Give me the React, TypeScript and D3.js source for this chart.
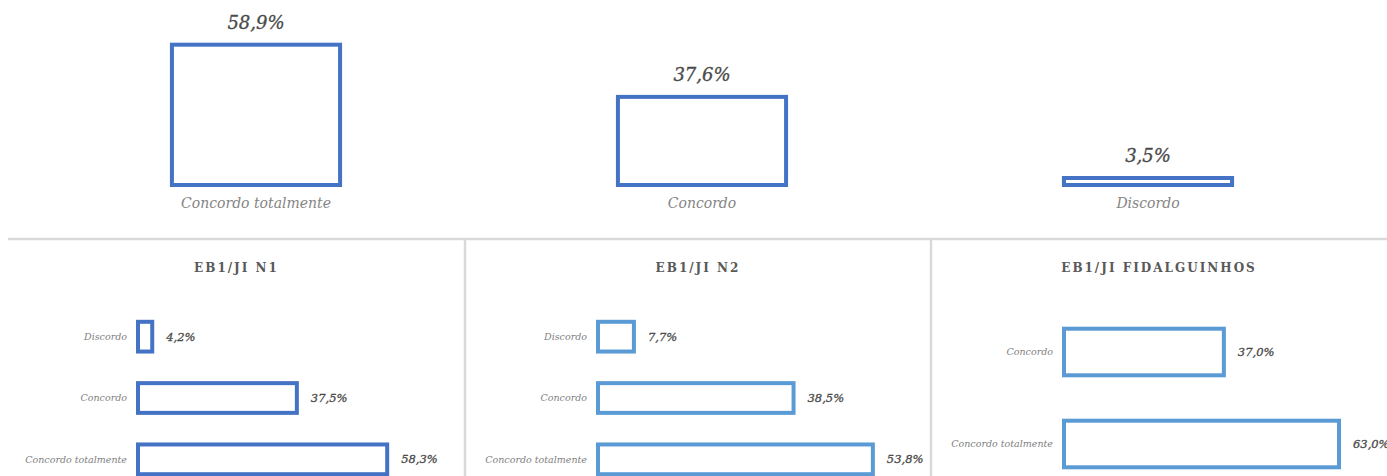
import * as d3 from "d3";

// overall distribution
const totalCategories = ["Concordo totalmente", "Concordo", "Discordo"];
const totalValues = [58.9, 37.6, 3.5];

// per-school panels (rows listed top to bottom)
const panelTitles = ["EB1/JI N1", "EB1/JI N2", "EB1/JI FIDALGUINHOS"];
const panelCategories = [
  ["Discordo", "Concordo", "Concordo totalmente"],
  ["Discordo", "Concordo", "Concordo totalmente"],
  ["Concordo", "Concordo totalmente"],
];
const panelValues = [
  [4.2, 37.5, 58.3],
  [7.7, 38.5, 53.8],
  [37.0, 63.0],
];
const panelAxisMax = [70, 60, 70];
const panelColors = ["#4472C4", "#5B9BD5", "#5B9BD5"];

const W = 1387;
const H = 476;
const FONT = "'DejaVu Serif', serif";
const fmt = (v: number) => v.toFixed(1).replace(".", ",") + "%";

function TopChart() {
  const x = d3.scaleBand<string>()
    .domain(totalCategories)
    .range([33, 1371])
    .paddingInner(0.614)
    .paddingOuter(0.307);
  const y = d3.scaleLinear().domain([0, 60]).range([187, 187 - 60 * 2.45]);
  const sw = 4;
  return (
    <g>
      {totalCategories.map((c, i) => {
        const v = totalValues[i];
        const x0 = x(c)!;
        const top = Math.min(y(v), y(0) - 11);
        return (
          <g key={c}>
            <rect
              x={x0 + sw / 2}
              y={top + sw / 2}
              width={x.bandwidth() - sw}
              height={Math.max(0.5, y(0) - top - sw)}
              fill="#fff"
              stroke="#4472C4"
              strokeWidth={sw}
            />
            <text
              x={x0 + x.bandwidth() / 2}
              y={top - 14}
              textAnchor="middle"
              fontFamily={FONT}
              fontStyle="italic"
              fontSize={18}
              fill="#4a4a4a"
              stroke="#4a4a4a"
              strokeWidth={0.3}
            >
              {fmt(v)}
            </text>
            <text
              x={x0 + x.bandwidth() / 2}
              y={208}
              textAnchor="middle"
              fontFamily={FONT}
              fontStyle="italic"
              fontSize={14}
              fill="#858585"
            >
              {c}
            </text>
          </g>
        );
      })}
    </g>
  );
}

function Panel(props: { idx: number; left: number; width: number; barLeft: number; plotWidth: number }) {
  const { idx, left, width, barLeft, plotWidth } = props;
  const cats = panelCategories[idx];
  const vals = panelValues[idx];
  const color = panelColors[idx];
  const y = d3.scaleBand<string>()
    .domain(cats)
    .range([306, 490])
    .paddingInner(0.45)
    .paddingOuter(0.225);
  const x = d3.scaleLinear().domain([0, panelAxisMax[idx]]).range([barLeft, barLeft + plotWidth]);
  const sw = 4;
  return (
    <g>
      <text
        x={left + width / 2}
        y={272}
        textAnchor="middle"
        fontFamily={FONT}
        fontWeight="bold"
        fontSize={12}
        letterSpacing={2}
        fill="#595959"
      >
        {panelTitles[idx]}
      </text>
      {cats.map((c, i) => {
        const v = vals[i];
        const y0 = y(c)!;
        const cy = y0 + y.bandwidth() / 2;
        return (
          <g key={c}>
            <rect
              x={x(0) + sw / 2}
              y={y0 + sw / 2}
              width={Math.max(12, x(v) - x(0) - sw)}
              height={y.bandwidth() - sw}
              fill="#fff"
              stroke={color}
              strokeWidth={sw}
            />
            <text
              x={barLeft - 9}
              y={cy}
              dy="0.35em"
              textAnchor="end"
              fontFamily={FONT}
              fontStyle="italic"
              fontSize={9.5}
              fill="#808080"
            >
              {c}
            </text>
            <text
              x={Math.max(x(v), x(0) + 16) + 12}
              y={cy}
              dy="0.35em"
              fontFamily={FONT}
              fontStyle="italic"
              fontSize={11.5}
              fill="#4a4a4a"
              stroke="#4a4a4a"
              strokeWidth={0.3}
            >
              {fmt(v)}
            </text>
          </g>
        );
      })}
    </g>
  );
}

export default function App() {
  return (
    <svg
      width={W}
      height={H}
      style={{ position: "absolute", left: 0, top: 0, display: "block", background: "#fff" }}
    >
      <TopChart />
      <line x1={8} x2={1387} y1={239} y2={239} stroke="#d9d9d9" strokeWidth={2.5} />
      <line x1={465} x2={465} y1={239} y2={H} stroke="#d9d9d9" strokeWidth={2.5} />
      <line x1={931} x2={931} y1={239} y2={H} stroke="#d9d9d9" strokeWidth={2.5} />
      <Panel idx={0} left={8} width={457} barLeft={136} plotWidth={304} />
      <Panel idx={1} left={465} width={466} barLeft={596} plotWidth={311} />
      <Panel idx={2} left={931} width={456} barLeft={1062} plotWidth={310} />
    </svg>
  );
}
